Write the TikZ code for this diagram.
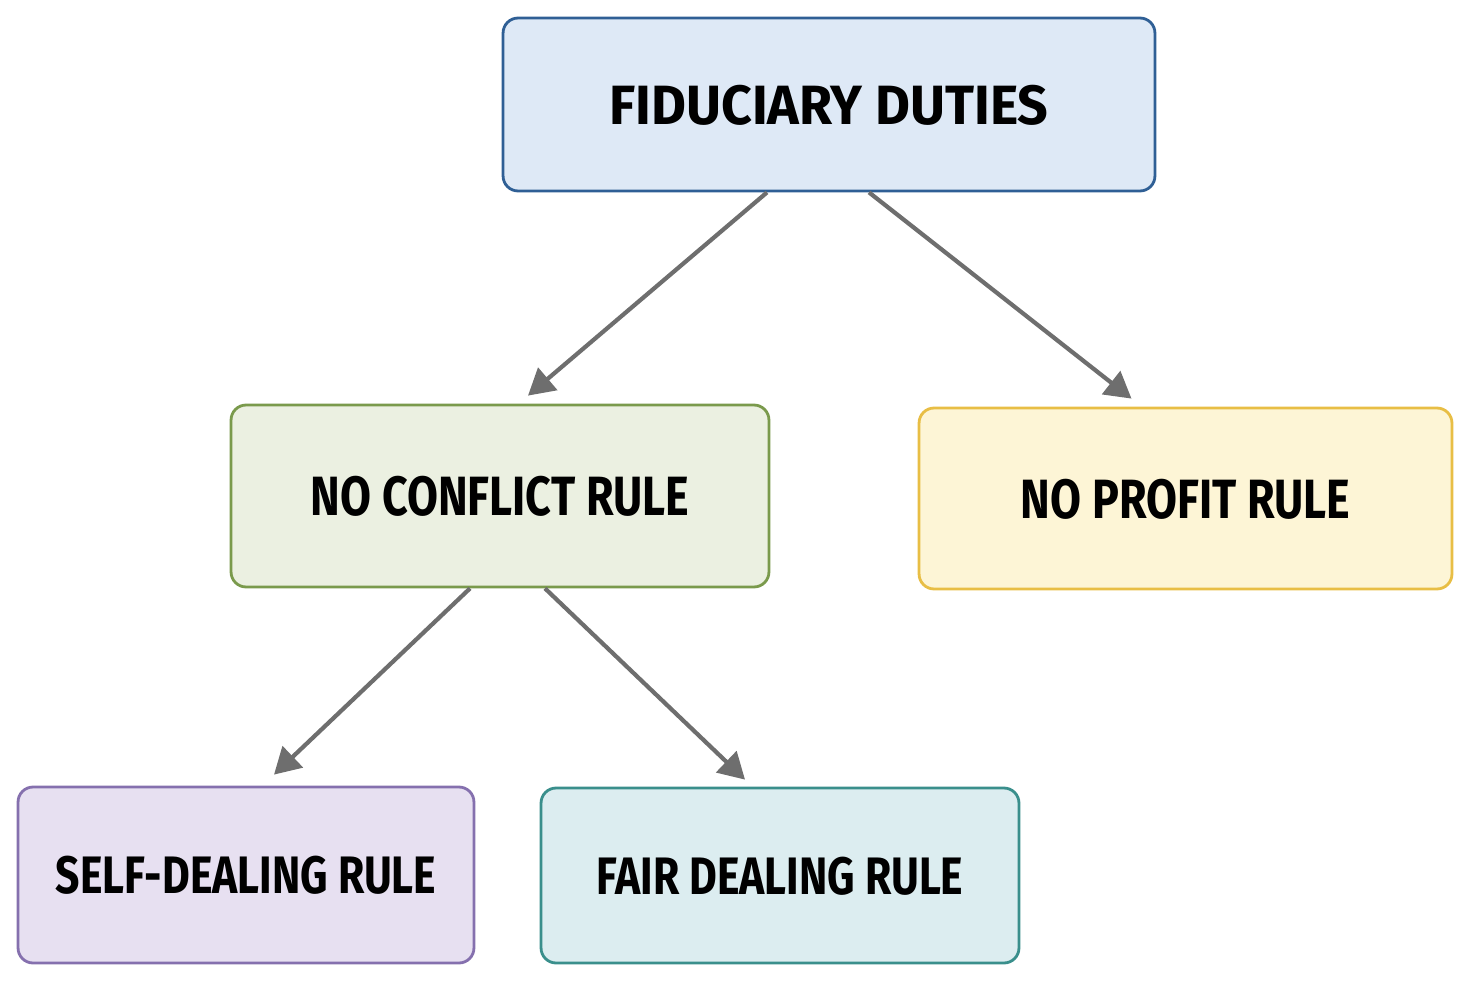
\documentclass[tikz,border=0pt]{standalone}
\usepackage{fontspec}
\setmainfont{Fira Sans}
\newfontfamily\widefont[FakeStretch=0.97]{Fira Sans}
\newfontfamily\narrowfont[FakeStretch=0.81]{Fira Sans}
\usetikzlibrary{arrows.meta,positioning,calc}

\definecolor{fidfill}{HTML}{DEE9F6}
\definecolor{fiddraw}{HTML}{2F5F95}
\definecolor{ncfill}{HTML}{EBF0E1}
\definecolor{ncdraw}{HTML}{7A9A4C}
\definecolor{npfill}{HTML}{FDF5D6}
\definecolor{npdraw}{HTML}{E8BE45}
\definecolor{sdfill}{HTML}{E7E0F1}
\definecolor{sddraw}{HTML}{8570AE}
\definecolor{fdfill}{HTML}{DCEDF0}
\definecolor{fddraw}{HTML}{3A8F8C}
\definecolor{arrowgray}{HTML}{6E6E6E}

\begin{document}
\begin{tikzpicture}[
    x=0.02cm, y=-0.02cm,
    rulebox/.style={rectangle, rounded corners=0.3cm, line width=1.6pt, align=center, inner sep=0pt, text depth=0pt},
    toptext/.style={font=\widefont\fontsize{31.5}{36}\selectfont\bfseries},
    midtext/.style={font=\narrowfont\fontsize{31.5}{36}\selectfont\bfseries},
    lowtext/.style={font=\narrowfont\fontsize{30}{36}\selectfont\bfseries},
    arrow/.style={-{Triangle[length=0.52cm, width=0.58cm]}, line width=2.4pt, draw=arrowgray}
]

\useasboundingbox (0,0) rectangle (1470,980);

% Top level
\node[rulebox, toptext, fill=fidfill, draw=fiddraw, minimum width=13.04cm, minimum height=3.46cm] (fid) at (829,104.5) {FIDUCIARY DUTIES};

% Second level
\node[rulebox, midtext, fill=ncfill, draw=ncdraw, minimum width=10.76cm, minimum height=3.64cm] (nc) at (500,496) {NO CONFLICT RULE};
\node[rulebox, midtext, fill=npfill, draw=npdraw, minimum width=10.66cm, minimum height=3.62cm] (np) at (1185.5,498.5) {NO PROFIT RULE};

% Third level
\node[rulebox, lowtext, fill=sdfill, draw=sddraw, minimum width=9.12cm, minimum height=3.52cm] (sd) at (246,875) {SELF-DEALING RULE};
\node[rulebox, lowtext, fill=fdfill, draw=fddraw, minimum width=9.56cm, minimum height=3.5cm] (fd) at (780,875.5) {FAIR DEALING RULE};

% Arrows
\draw[arrow] ($(fid.south)+(-62,0)$) -- ($(nc.north)+(28,-8)$);
\draw[arrow] ($(fid.south)+(40,0)$) -- ($(np.north)+(-54,-8)$);
\draw[arrow] ($(nc.south)+(-30,0)$) -- ($(sd.north)+(28,-11)$);
\draw[arrow] ($(nc.south)+(45,0)$) -- ($(fd.north)+(-35,-7)$);

\end{tikzpicture}
\end{document}
